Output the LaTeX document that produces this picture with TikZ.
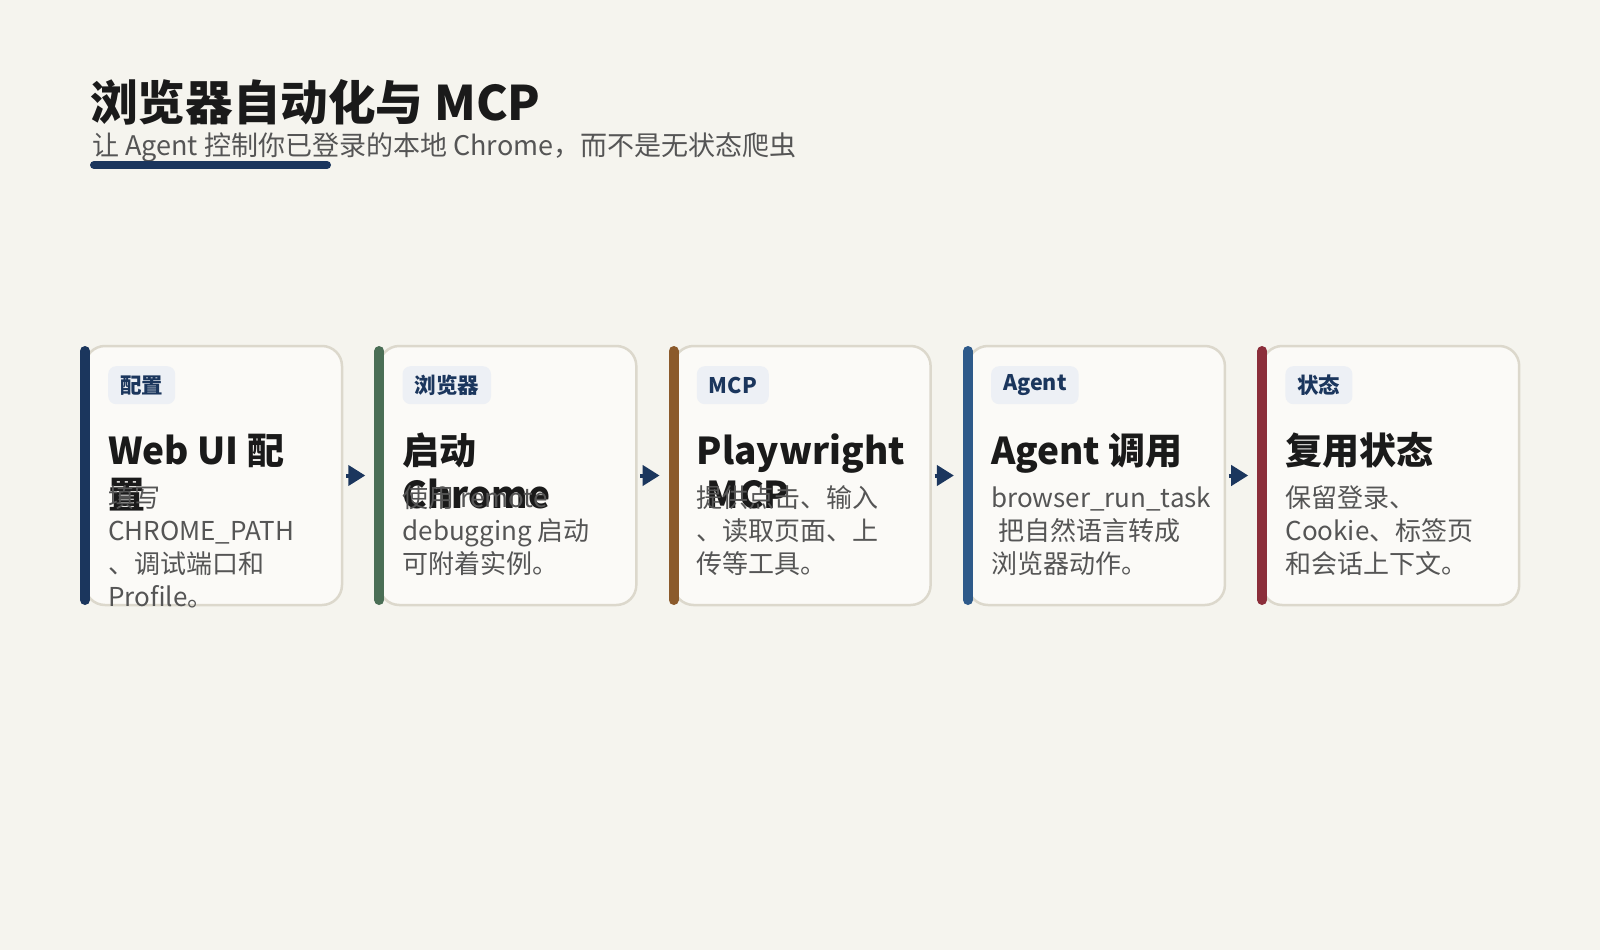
\documentclass[tikz,border=0pt]{standalone}
\usepackage{fontspec}
\setmainfont{Noto Sans CJK SC}
\usetikzlibrary{arrows.meta, positioning}

\definecolor{paper}{HTML}{F5F4EE}
\definecolor{cardfill}{HTML}{FBFAF7}
\definecolor{cardline}{HTML}{DCD8CC}
\definecolor{tagfill}{HTML}{EDF0F5}
\definecolor{navy}{HTML}{1B365D}
\definecolor{pine}{HTML}{4A6E55}
\definecolor{rust}{HTML}{8B5A2B}
\definecolor{steel}{HTML}{2E5A8A}
\definecolor{wine}{HTML}{8B2E3A}
\definecolor{ink}{HTML}{1A1A1A}
\definecolor{bodyink}{HTML}{555555}

\begin{document}
\begin{tikzpicture}[x=1pt,y=-1pt,
card/.style={draw=cardline,line width=2.5pt,fill=cardfill,rounded corners=20pt,minimum width=257pt,minimum height=259pt,inner sep=0pt,outer sep=0pt},
accent/.style={line width=10pt,line cap=round},
tagbox/.style={fill=tagfill,rounded corners=8pt,text=navy,font=\fontsize{21.5}{26}\selectfont\bfseries,inner xsep=12pt,inner ysep=0pt,minimum height=38pt},
cardtitle/.style={anchor=base west,align=left,inner sep=0pt,text=ink,font=\fontsize{37}{44}\selectfont\bfseries},
cardbody/.style={anchor=base west,align=left,inner sep=0pt,text=bodyink,font=\fontsize{26}{33}\selectfont},
flow/.style={-{Triangle[length=17pt,width=20pt]},navy,line width=4pt,shorten <=4pt,shorten >=14pt}]
\fill[paper] (0,0) rectangle (1600,950);
% heading
\node[anchor=base west,inner sep=0pt,text=ink,font=\fontsize{47.6}{56}\selectfont\bfseries] (head) at (90,120) {浏览器自动化与 MCP};
\node[anchor=base west,inner sep=0pt,text=bodyink,font=\fontsize{27}{32}\selectfont] (sub) at (92,155) {让 Agent 控制你已登录的本地 Chrome，而不是无状态爬虫};
\draw[navy,line width=8pt,line cap=round] (94,165) -- (327,165);
% cards
\node[card] (card1) at (213.5,475.5) {};
\node[card] (card2) [right=37.3pt of card1] {};
\node[card] (card3) [right=37.3pt of card2] {};
\node[card] (card4) [right=37.3pt of card3] {};
\node[card] (card5) [right=37.3pt of card4] {};
\draw[accent,navy] ([yshift=-5pt]card1.north west) -- ([yshift=5pt]card1.south west);
\draw[accent,pine] ([yshift=-5pt]card2.north west) -- ([yshift=5pt]card2.south west);
\draw[accent,rust] ([yshift=-5pt]card3.north west) -- ([yshift=5pt]card3.south west);
\draw[accent,steel] ([yshift=-5pt]card4.north west) -- ([yshift=5pt]card4.south west);
\draw[accent,wine] ([yshift=-5pt]card5.north west) -- ([yshift=5pt]card5.south west);
% tags
\node[tagbox] (tag1) [below right=20pt and 23pt of card1.north west] {配置};
\node[tagbox] (tag2) [below right=20pt and 23pt of card2.north west] {浏览器};
\node[tagbox] (tag3) [below right=20pt and 23pt of card3.north west] {MCP};
\node[tagbox] (tag4) [below right=20pt and 23pt of card4.north west] {Agent};
\node[tagbox] (tag5) [below right=20pt and 23pt of card5.north west] {状态};
% titles (base = last line)
\node (title1) [below right=162pt and 23pt of card1.north west,cardtitle] {Web UI 配\\置};
\node (title2) [below right=162pt and 23pt of card2.north west,cardtitle] {启动\\Chrome};
\node (title3) [below right=162pt and 23pt of card3.north west,cardtitle] {Playwright\\\kern10pt MCP};
\node (title4) [below right=118pt and 23pt of card4.north west,cardtitle] {Agent 调用};
\node (title5) [below right=118pt and 23pt of card5.north west,cardtitle] {复用状态};
% bodies (base = last line)
\node (body1) [below right=260pt and 23pt of card1.north west,cardbody] {填写\\CHROME\_PATH\\、调试端口和\\Profile。};
\node (body2) [below right=227pt and 23pt of card2.north west,cardbody] {使用 remote\\debugging 启动\\可附着实例。};
\node (body3) [below right=227pt and 23pt of card3.north west,cardbody] {提供点击、输入\\、读取页面、上\\传等工具。};
\node (body4) [below right=227pt and 23pt of card4.north west,cardbody] {browser\_run\_task\\\kern7pt 把自然语言转成\\浏览器动作。};
\node (body5) [below right=227pt and 23pt of card5.north west,cardbody] {保留登录、\\Cookie、标签页\\和会话上下文。};
% arrows
\draw[flow] (card1.east) -- (card2.west);
\draw[flow] (card2.east) -- (card3.west);
\draw[flow] (card3.east) -- (card4.west);
\draw[flow] (card4.east) -- (card5.west);
\end{tikzpicture}
\end{document}
